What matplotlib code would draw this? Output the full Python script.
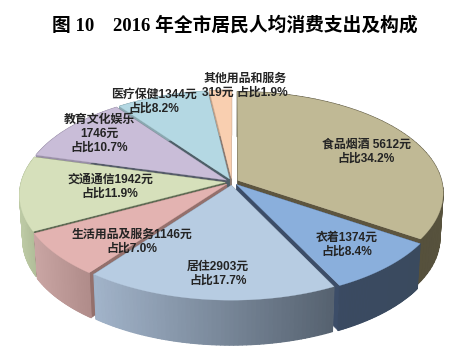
import numpy as np
import matplotlib
matplotlib.use("Agg")
import matplotlib.pyplot as plt
from matplotlib.collections import PolyCollection
from matplotlib.colors import to_rgb
from matplotlib.patches import Polygon

title = "图 10\u30002016 年全市居民人均消费支出及构成"
categories = ["食品烟酒", "衣着", "居住", "生活用品及服务", "交通通信", "教育文化娱乐", "医疗保健", "其他用品和服务"]
values = [5612, 1374, 2903, 1146, 1942, 1746, 1344, 319]
labels = ["食品烟酒 5612元\n占比34.2%", "衣着1374元\n占比8.4%", "居住2903元\n占比17.7%",
          "生活用品及服务1146元\n占比7.0%", "交通通信1942元\n占比11.9%",
          "教育文化娱乐\n1746元\n占比10.7%", "医疗保健1344元\n占比8.2%",
          "其他用品和服务\n319元 占比1.9%"]
label_xy = [(366, 152), (347, 245), (218, 274), (132, 242), (110, 187), (99, 134), (154, 102), (245, 86)]
top_colors = ["#c0b995", "#8aafdc", "#b7cce2", "#e3b3b1", "#d6e0bb", "#c9bdd8", "#b4d8e3", "#f9cfb0"]
rim_left = ["#4b4735", "#3a4a62", "#a2b4ca", "#c9a5a3", "#bdcaa5", "#9a90a8", "#8aa8b0", "#c0a088"]
rim_right = ["#57523d", "#3a4a5e", "#566270", "#b08c8a", "#b0bd98", "#9a90a8", "#8aa8b0", "#c0a088"]
cut_colors = ["#5d553f", "#3c4d68", "#6a7888", "#94706c", "#5f6b54", "#565c6a", "#4e6069", "#8c7a70"]

CX, CY, RX, RY, K = 232.0, 182.0, 204.0, 100.0, 0.122
THICK, SHRINK, EXPLODE = 45.0, 0.985, 0.033


def project(u, v):
    s = 1.0 / (1.0 - K * v)
    return CX + RX * u * s, CY + RY * v * s


def lower(x, y):
    return CX + (x - CX) * SHRINK, y + THICK


fig = plt.figure(figsize=(4.75, 3.51), dpi=100)
ax = fig.add_axes([0, 0, 1, 1])
ax.set_xlim(0, 475)
ax.set_ylim(351, 0)
ax.axis("off")

shares = np.array(values, dtype=float) / np.sum(values)
edges = np.concatenate([[0.0], np.cumsum(shares)]) * 2 * np.pi
mids = (edges[:-1] + edges[1:]) / 2
order = np.argsort(-np.cos(mids))

for z, i in enumerate(order):
    a = np.linspace(edges[i], edges[i + 1], 60)
    du, dv = EXPLODE * np.sin(mids[i]), -EXPLODE * np.cos(mids[i])
    xs, ys = project(np.sin(a) + du, -np.cos(a) + dv)
    ax0, ay0 = project(du, dv)
    bx, by = lower(xs, ys)
    apx, apy = lower(ax0, ay0)
    base = 10 + z * 10
    for ex, ey, ebx, eby in ((xs[0], ys[0], bx[0], by[0]), (xs[-1], ys[-1], bx[-1], by[-1])):
        ax.add_patch(Polygon([(ax0, ay0), (ex, ey), (ebx, eby), (apx, apy)], closed=True,
                             fc=cut_colors[i], ec=cut_colors[i], lw=0.3, zorder=base))
    left, right = np.array(to_rgb(rim_left[i])), np.array(to_rgb(rim_right[i]))
    # solid underlay keeps the white page from showing through the strip seams
    ax.add_patch(Polygon(np.column_stack([np.r_[xs, bx[::-1]], np.r_[ys, by[::-1]]]), closed=True,
                         fc=(left + right) / 2, ec="none", zorder=base + 1))
    quads, cols = [], []
    for j in range(len(a) - 1):
        quads.append([(xs[j], ys[j]), (xs[j + 1], ys[j + 1]), (bx[j + 1], by[j + 1]), (bx[j], by[j])])
        t = (xs[j] - xs.min()) / max(xs.max() - xs.min(), 1)
        cols.append(left + (right - left) * t)
    ax.add_collection(PolyCollection(quads, facecolors=cols, edgecolors=cols, linewidths=0.8, zorder=base + 2))
    ax.add_patch(Polygon(np.column_stack([np.r_[ax0, xs], np.r_[ay0, ys]]), closed=True,
                         fc=top_colors[i], ec=top_colors[i], lw=0.2, zorder=base + 3))

ax.text(235, 25, title, ha="center", va="center", fontsize=13.5, fontweight="bold",
        family=["Liberation Serif", "Noto Sans CJK SC"], color="#000000", zorder=200)
for txt, (x, y) in zip(labels, label_xy):
    ax.text(x, y, txt, ha="center", va="center", fontsize=8.6, fontweight="bold", linespacing=1.22,
            family=["Liberation Sans", "Noto Sans CJK SC"], color="#242424", zorder=200)

fig.savefig("out.png", dpi=100)
